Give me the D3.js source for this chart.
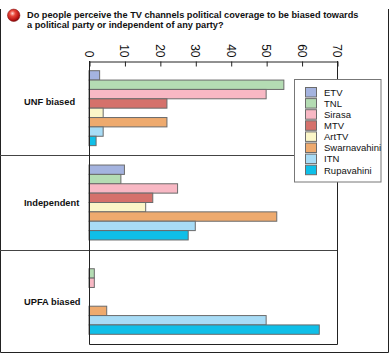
<!DOCTYPE html>
<html>
<head>
<meta charset="utf-8">
<script src="https://cdn.jsdelivr.net/npm/d3@7"></script>
<style>
  html, body { margin: 0; padding: 0; background: #fff; }
  svg { display: block; font-family: "Liberation Sans", Arial, Helvetica, sans-serif; }
</style>
</head>
<body>
<svg id="chart" width="391" height="354"></svg>
<script>
// ---- data ----
const titleLines = [
  "Do people perceive the TV channels political coverage to be biased towards",
  "a political party or independent of any party?"
];
const groups = ["UNF biased", "Independent", "UPFA biased"];
const channels = ["ETV", "TNL", "Sirasa", "MTV", "ArtTV", "Swarnavahini", "ITN", "Rupavahini"];
const colors = ["#a4b3df", "#b4dcb3", "#f8b8c4", "#d5716b", "#fbf6c8", "#eeaa6e", "#a8dcf6", "#0fbfe8"];
const unfBiased   = [3, 55, 50, 22, 4, 22, 4, 2];
const independent = [10, 9, 25, 18, 16, 53, 30, 28];
const upfaBiased  = [0, 1.5, 1.5, 0, 0, 5, 50, 65];
const ticks = [0, 10, 20, 30, 40, 50, 60, 70];

const seriesByGroup = [unfBiased, independent, upfaBiased];

// ---- layout ----
const svg = d3.select("#chart");
const plot = { left: 89, right: 337, top: 61, bottom: 344 };

const x = d3.scaleLinear().domain([0, 70]).range([plot.left, plot.right]);
const yGroup = d3.scaleBand().domain(groups).range([plot.top, plot.bottom]).padding(0);
const yBar = d3.scaleBand().domain(channels)
  .range([9.7, yGroup.bandwidth() - 9.7]).padding(0);
const color = d3.scaleOrdinal().domain(channels).range(colors);

// outer frame
svg.append("path")
  .attr("d", "M0.5,9 V352.5 H388.5 V9")
  .attr("fill", "none").attr("stroke", "#222").attr("stroke-width", 1);

// title icon
const defs = svg.append("defs");
const rg = defs.append("radialGradient").attr("id", "ball")
  .attr("cx", "40%").attr("cy", "35%").attr("r", "65%");
rg.append("stop").attr("offset", "0%").attr("stop-color", "#ffd6d0");
rg.append("stop").attr("offset", "35%").attr("stop-color", "#e8473a");
rg.append("stop").attr("offset", "85%").attr("stop-color", "#b31010");
rg.append("stop").attr("offset", "100%").attr("stop-color", "#7a0a0a");
svg.append("circle").attr("cx", 13.7).attr("cy", 15.3).attr("r", 6.2)
  .attr("fill", "url(#ball)").attr("stroke", "#8a1b1b").attr("stroke-width", 0.6);

svg.append("g").selectAll("text").data(titleLines).join("text")
  .attr("x", 27).attr("y", (d, i) => 17.5 + i * 10.2)
  .attr("font-size", 9.2).attr("font-weight", "bold").attr("fill", "#111")
  .text(d => d);

// group separators (extend to left edge)
svg.append("g").selectAll("line").data(groups.slice(1)).join("line")
  .attr("x1", 0).attr("x2", plot.right)
  .attr("y1", d => Math.round(yGroup(d)) + 0.5).attr("y2", d => Math.round(yGroup(d)) + 0.5)
  .attr("stroke", "#444").attr("stroke-width", 1);

// bars
const gGroups = svg.append("g").selectAll("g").data(groups).join("g")
  .attr("transform", d => `translate(0,${yGroup(d)})`);

gGroups.each(function (gname, gi) {
  const vals = seriesByGroup[gi];
  const rows = channels.map((c, i) => ({ c, v: vals[i] })).filter(d => d.v > 0);
  d3.select(this).selectAll("rect").data(rows).join("rect")
    .attr("x", x(0))
    .attr("y", d => yBar(d.c))
    .attr("width", d => x(d.v) - x(0))
    .attr("height", yBar.bandwidth())
    .attr("fill", d => color(d.c))
    .attr("stroke", "#6b6b6b").attr("stroke-width", 1);
});

// group labels
const labelShift = [-6, 0, 5];
svg.append("g").selectAll("text").data(groups).join("text")
  .attr("x", 24)
  .attr("y", (d, i) => yGroup(d) + yGroup.bandwidth() / 2 + labelShift[i])
  .attr("dy", "0.35em")
  .attr("font-size", 9.3).attr("font-weight", "bold").attr("fill", "#111")
  .text(d => d);

// plot frame (left, right, bottom)
svg.append("path")
  .attr("d", `M${plot.left + 0.5},${plot.top} V${plot.bottom + 0.5} H${plot.right + 0.5} V${plot.top}`)
  .attr("fill", "none").attr("stroke", "#222").attr("stroke-width", 1);

// top axis
const axis = d3.axisTop(x).tickValues(ticks).tickSizeInner(-5).tickSizeOuter(0).tickFormat(d3.format("d"));
const gAxis = svg.append("g").attr("transform", `translate(0.5,${plot.top + 0.5})`).call(axis);
gAxis.select(".domain").attr("stroke", "#222");
gAxis.selectAll(".tick line").attr("stroke", "#222");
gAxis.selectAll(".tick text")
  .attr("font-size", 12).attr("font-family", "Liberation Sans, Arial, sans-serif")
  .attr("fill", "#111")
  .attr("text-anchor", "end")
  .attr("x", -4).attr("y", 5).attr("dy", null)
  .attr("transform", "rotate(90)");

// legend
const lg = svg.append("g");
lg.append("rect").attr("x", 294.5).attr("y", 79.5).attr("width", 86.5).attr("height", 102.5)
  .attr("fill", "#fff").attr("stroke", "#777").attr("stroke-width", 1);
const li = lg.selectAll("g.item").data(channels).join("g").attr("class", "item")
  .attr("transform", (d, i) => `translate(305.5,${87.5 + i * 11.1})`);
li.append("rect").attr("width", 11).attr("height", 9.5)
  .attr("fill", d => color(d)).attr("stroke", "#6b6b6b").attr("stroke-width", 1);
li.append("text").attr("x", 18.5).attr("y", 8.3)
  .attr("font-size", 9.5).attr("fill", "#111").text(d => d);
</script>
</body>
</html>
